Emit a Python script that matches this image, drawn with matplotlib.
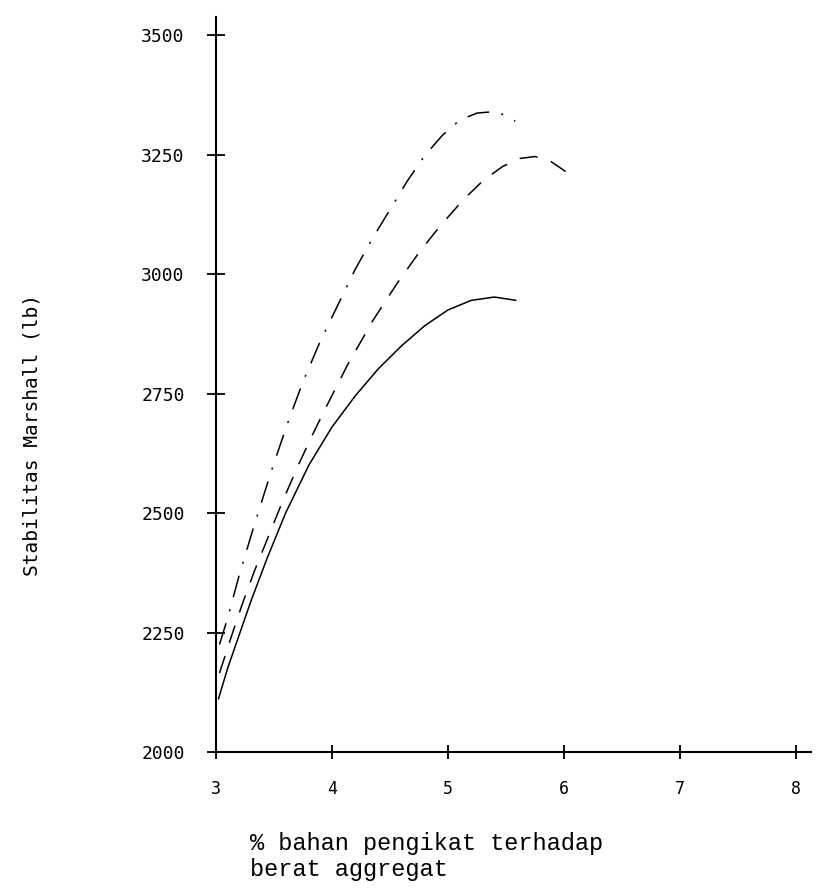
import matplotlib
matplotlib.use("Agg")
import matplotlib.pyplot as plt

plt.rcParams['lines.scale_dashes'] = False

# Data
x_solid = [3.02, 3.10, 3.20, 3.30, 3.44, 3.60, 3.80, 4.00, 4.20, 4.40, 4.60, 4.80, 5.00, 5.20, 5.40, 5.59]
y_solid = [2110, 2175, 2245, 2315, 2405, 2500, 2600, 2680, 2745, 2802, 2850, 2892, 2925, 2945, 2952, 2945]

x_dash = [3.03, 3.13, 3.22, 3.33, 3.45, 3.57, 3.70, 3.82, 3.95, 4.13, 4.35, 4.56, 4.75, 4.93, 5.13, 5.30, 5.47, 5.62, 5.75, 5.88, 6.03]
y_dash = [2165, 2240, 2305, 2378, 2450, 2522, 2595, 2658, 2722, 2808, 2902, 2980, 3045, 3100, 3155, 3195, 3225, 3242, 3246, 3237, 3212]

x_dashdot = [3.03, 3.10, 3.20, 3.33, 3.48, 3.62, 3.75, 3.90, 4.05, 4.20, 4.35, 4.50, 4.65, 4.80, 4.95, 5.10, 5.25, 5.40, 5.50, 5.58]
y_dashdot = [2225, 2280, 2370, 2475, 2590, 2690, 2775, 2860, 2935, 3010, 3075, 3135, 3195, 3248, 3290, 3322, 3337, 3340, 3332, 3320]

x_ticks = [3, 4, 5, 6, 7, 8]
y_ticks = [2000, 2250, 2500, 2750, 3000, 3250, 3500]

y_label = "Stabilitas Marshall (lb)"
x_label = "% bahan pengikat terhadap\nberat aggregat"

W, H = 818, 889
fig = plt.figure(figsize=(W / 100, H / 100), dpi=100)
fig.patch.set_facecolor('white')

left_px, right_px, bottom_px, top_px = 216, 811, 752, 17
ax = fig.add_axes([left_px / W, 1 - bottom_px / H, (right_px - left_px) / W, (bottom_px - top_px) / H])

ax.set_xlim(3, 8.13)
ax.set_ylim(2000, 3538)

lw = 1.1
ax.plot(x_solid, y_solid, color='black', lw=lw, solid_capstyle='butt')
l2, = ax.plot(x_dash, y_dash, color='black', lw=lw)
l2.set_dashes([13, 10])
l3, = ax.plot(x_dashdot, y_dashdot, color='black', lw=lw)
l3.set_dashes([16, 9, 1.5, 9])

for s in ['top', 'right']:
    ax.spines[s].set_visible(False)
for s in ['left', 'bottom']:
    ax.spines[s].set_linewidth(1.5)
    ax.spines[s].set_color('black')

ax.set_xticks(x_ticks)
ax.set_xticklabels([str(v) for v in x_ticks], family='DejaVu Sans Mono', fontsize=12)
ax.set_yticks(y_ticks)
ax.set_yticklabels([str(v) for v in y_ticks], family='DejaVu Sans Mono', fontsize=13)

ax.tick_params(axis='y', direction='inout', length=13, width=1.3, pad=16)
ax.tick_params(axis='x', direction='inout', length=10, width=1.3, pad=15)

fig.text(32 / W, 1 - 435 / H, y_label, rotation=90, ha='center', va='center',
         family='DejaVu Sans Mono', fontsize=14)
fig.text(250 / W, 1 - 832 / H, x_label, ha='left', va='top',
         family='Liberation Mono', fontsize=17, linespacing=1.15)

fig.savefig('out.png', dpi=100, facecolor='white')
